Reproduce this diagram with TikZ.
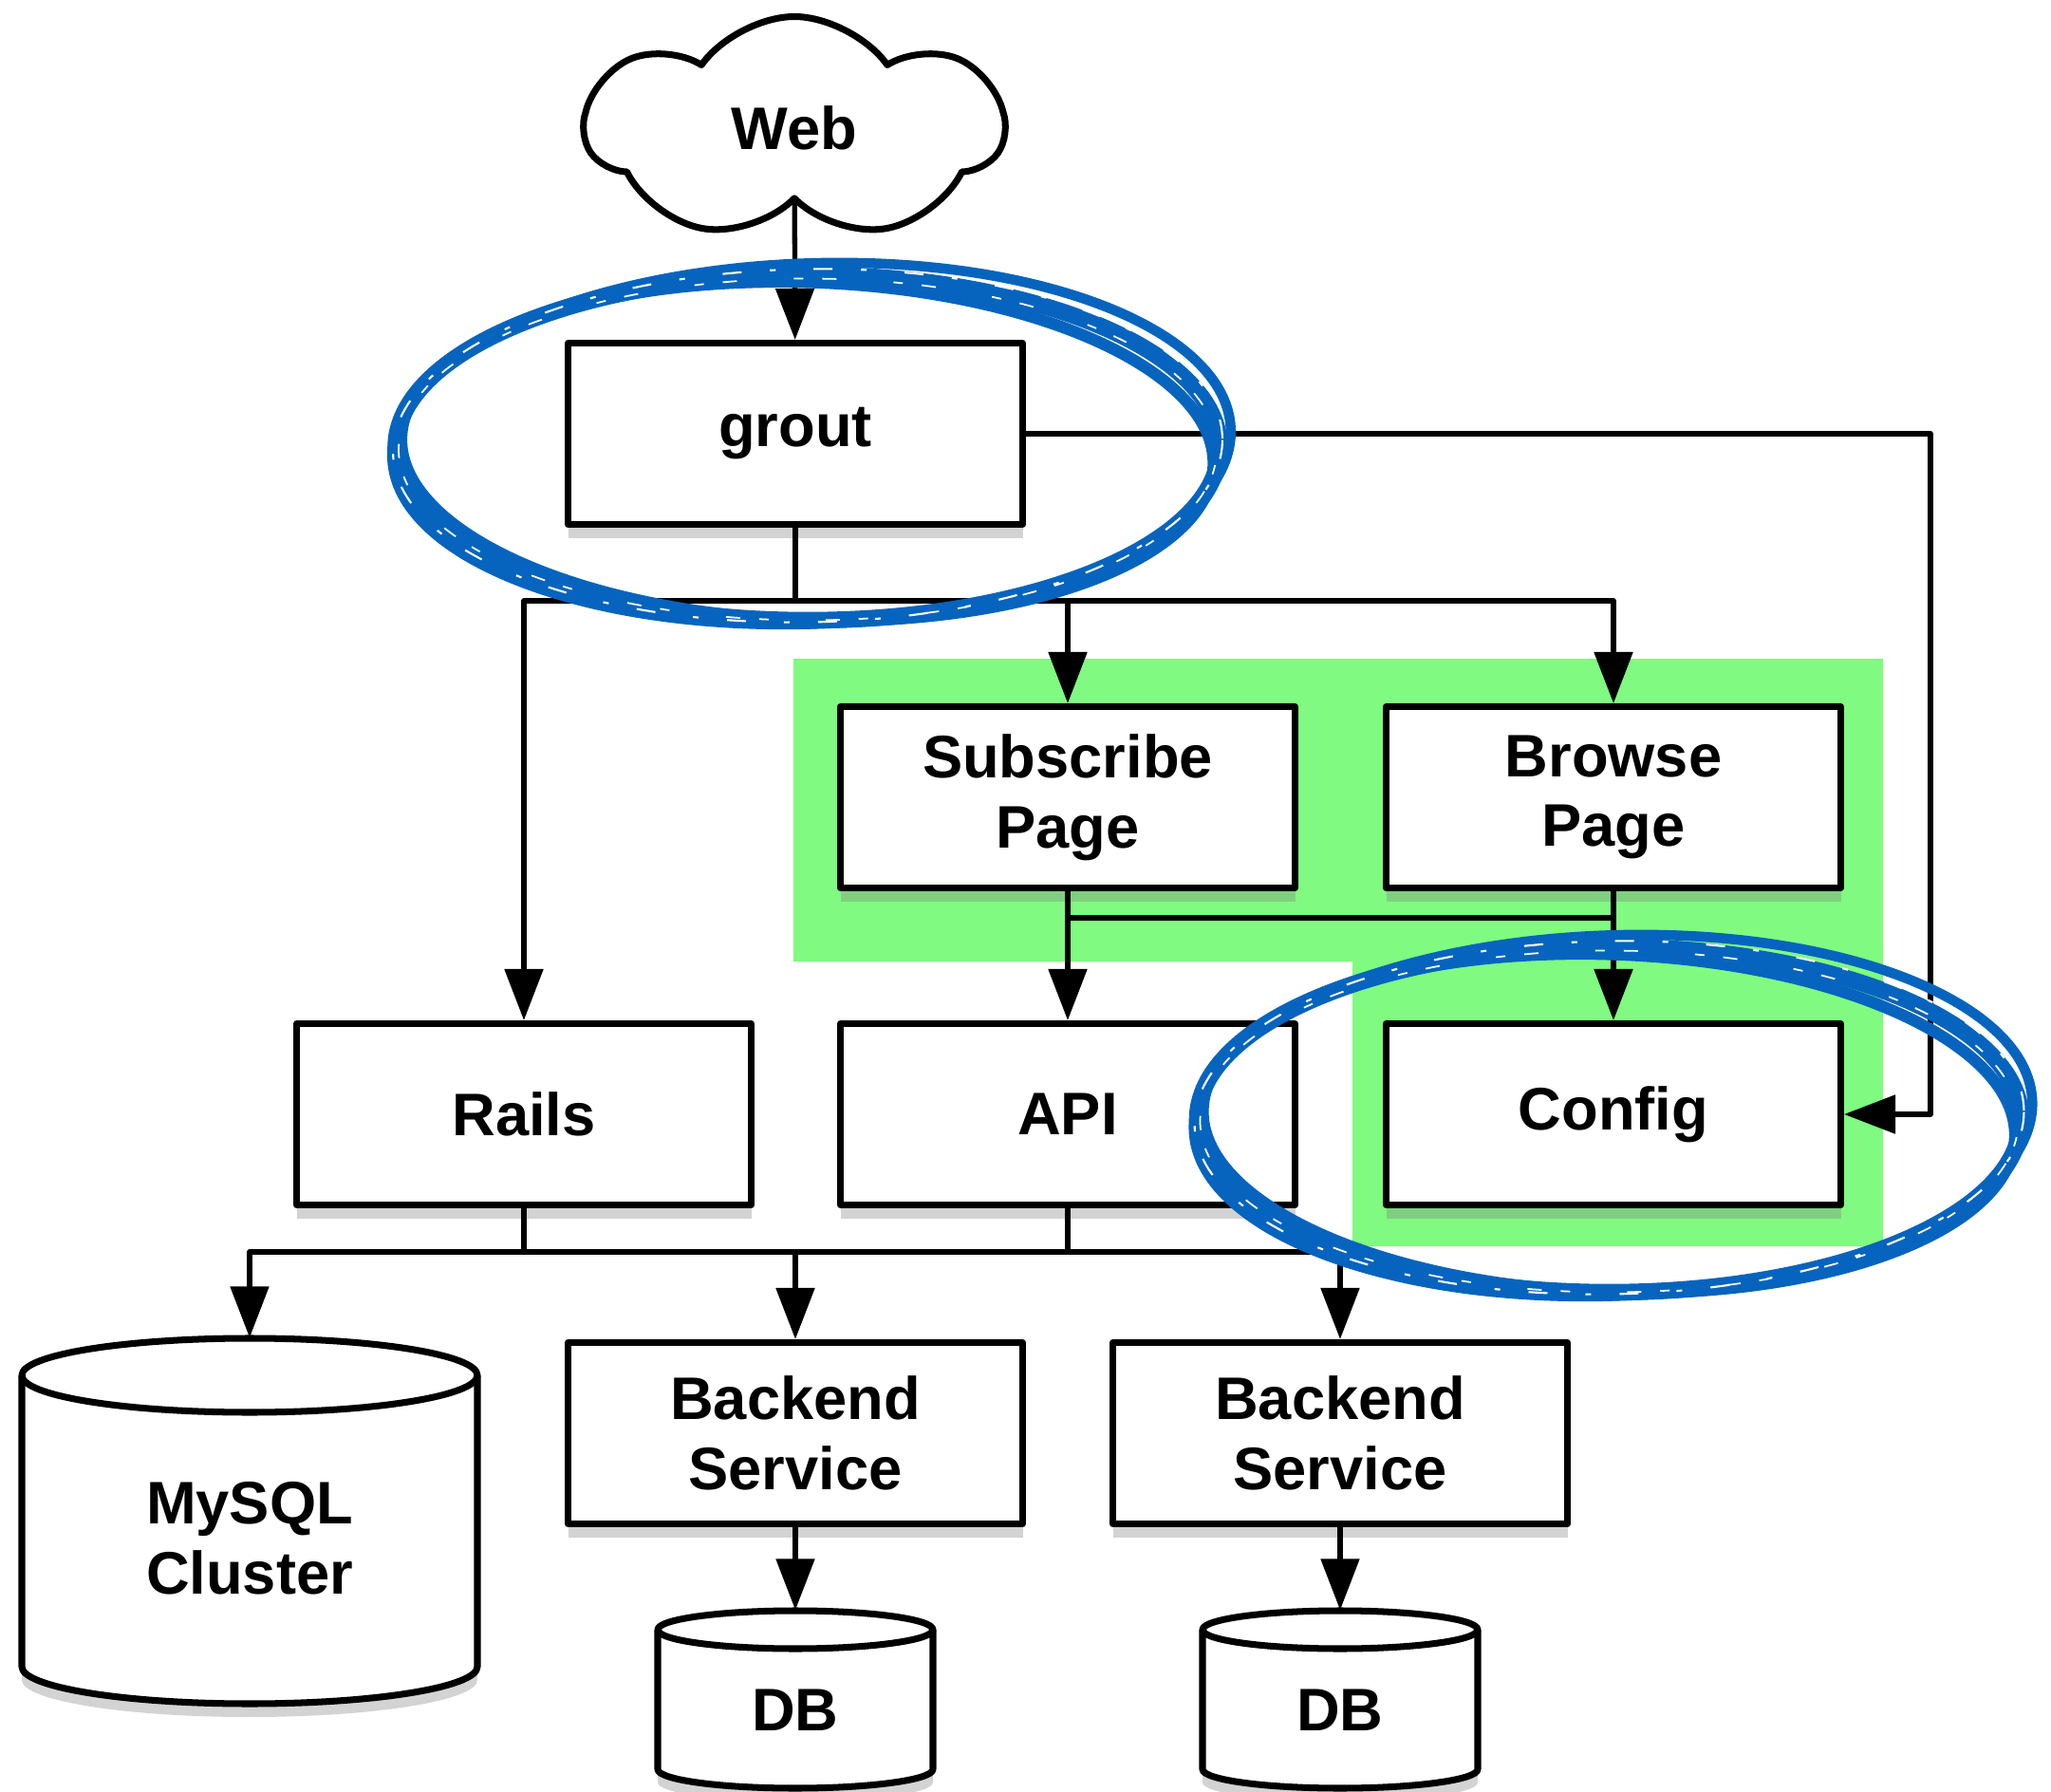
\documentclass[tikz,border=0pt]{standalone}
\usepackage{fontspec}
\setmainfont{Liberation Sans}
\usetikzlibrary{arrows.meta,shapes.symbols,shadows}
\definecolor{hlgreen}{RGB}{128,250,128}
\definecolor{penblue}{RGB}{6,100,190}
\begin{document}
\begin{tikzpicture}[>={Triangle[length=5.4mm,width=4mm]},line join=round,
	font=\fontsize{18}{21}\selectfont\bfseries,
	box/.style={draw,line width=2pt,fill=white,minimum width=4.79cm,minimum height=1.91cm,align=center,
		drop shadow={shadow xshift=0mm,shadow yshift=-1.4mm,opacity=.35}},
	cyl/.style={draw,line width=2pt,fill=white,
		drop shadow={shadow xshift=0mm,shadow yshift=-1.4mm,opacity=.35}},
	cyltext/.style={inner sep=0pt},
	link/.style={line width=1.5pt},
	arr/.style={link,->},
	ring/.style={penblue}]
	\useasboundingbox (0,0) rectangle (21.61,-18.88);
		\fill[hlgreen] (8.36,-6.94) rectangle (19.84,-10.13) (14.25,-10.13) rectangle (19.84,-13.13);
		\node[cloud,cloud puffs=7,cloud puff arc=110,aspect=2,draw,line width=2pt,fill=white,minimum width=4.4cm,minimum height=2.35cm] (web) at (8.37,-1.35) {Web};
		\node[box] (grout) at (8.38,-4.57) {grout};
		\node[box] (sub) at (11.25,-8.40) {Subscribe\\Page};
		\node[box] (browse) at (17.00,-8.40) {Browse\\Page};
		\node[box] (rails) at (5.52,-11.74) {Rails};
		\node[box] (api) at (11.25,-11.74) {API};
		\node[box] (config) at (17.00,-11.74) {Config};
		\node[box] (be1) at (8.38,-15.10) {Backend\\Service};
		\node[box] (be2) at (14.12,-15.10) {Backend\\Service};
		\foreach \cx/\ty/\by/\rx/\ry in {2.63/-14.10/-17.95/2.40/0.39,8.38/-16.97/-18.84/1.45/0.20,14.12/-16.97/-18.84/1.45/0.20}{
			\filldraw[cyl] (\cx-\rx,\ty-\ry)--(\cx-\rx,\by+\ry) arc[start angle=180,end angle=360,x radius=\rx,y radius=\ry]
				--(\cx+\rx,\ty-\ry) arc[start angle=0,end angle=180,x radius=\rx,y radius=\ry]--cycle;
			\draw[line width=2pt] (\cx-\rx,\ty-\ry) arc[start angle=180,end angle=360,x radius=\rx,y radius=\ry];
		}
		\node[cyltext,minimum width=4.8cm,minimum height=3.85cm,label={[align=center,yshift=-1.8mm]center:MySQL\\Cluster}] (mysql) at (2.63,-16.025) {};
		\node[cyltext,minimum width=2.9cm,minimum height=1.87cm,label={[yshift=-1.1mm]center:DB}] (db1) at (8.38,-17.905) {};
		\node[cyltext,minimum width=2.9cm,minimum height=1.87cm,label={[yshift=-1.1mm]center:DB}] (db2) at (14.12,-17.905) {};
		\path (8.38,-6.33)coordinate (gj)
			(20.34,-4.57)coordinate (gr)
			(11.25,-9.67)coordinate (pj)
			(17.00,-9.67)coordinate (bj)
			(5.52,-13.19)coordinate (rj)
			(11.25,-13.19)coordinate (aj);
			\draw[arr] (web)--(grout);
			\draw[link] (grout)--(gj);
			\foreach \x in {rails,sub,browse}\draw[arr] (gj)-|(\x);
			\draw[arr] (grout.east)--(gr)|-(config.east);
			\draw[arr] (sub)--(api);
			\draw[arr] (browse)--(config);
			\draw[link] (pj)--(bj);
			\draw[link] (rails)--(rj) (api)--(aj) (rj)--(aj);
			\draw[arr] (rj)-|(mysql);
			\draw[arr] (rj)-|(be1);
			\draw[arr] (aj)-|(be2);
			\draw[arr] (be1)--(db1);
			\draw[arr] (be2)--(db2);
		\foreach \cx/\cy in {8.51/-4.675,16.955/-11.755}{
			\draw[ring,line width=5pt] (\cx,\cy-0.04) ellipse[x radius=4.34,y radius=1.82];
			\draw[ring,line width=3.5pt,rotate around={-2:(\cx,\cy)}] (\cx,\cy-0.08) ellipse[x radius=4.28,y radius=1.78];
			\draw[ring,line width=3pt,rotate around={2:(\cx,\cy)}] (\cx+0.04,\cy) ellipse[x radius=4.42,y radius=1.90];
			\draw[white,line width=.6pt,dash pattern=on 2mm off 4mm on .6mm off 3mm,rotate around={1:(\cx,\cy)}] (\cx,\cy-0.02) ellipse[x radius=4.37,y radius=1.86];
			\draw[white,line width=.5pt,dash pattern=on 1mm off 6mm on 1.5mm off 2mm,dash phase=2mm] (\cx,\cy-0.06) ellipse[x radius=4.31,y radius=1.80];
		}
\end{tikzpicture}
\end{document}
